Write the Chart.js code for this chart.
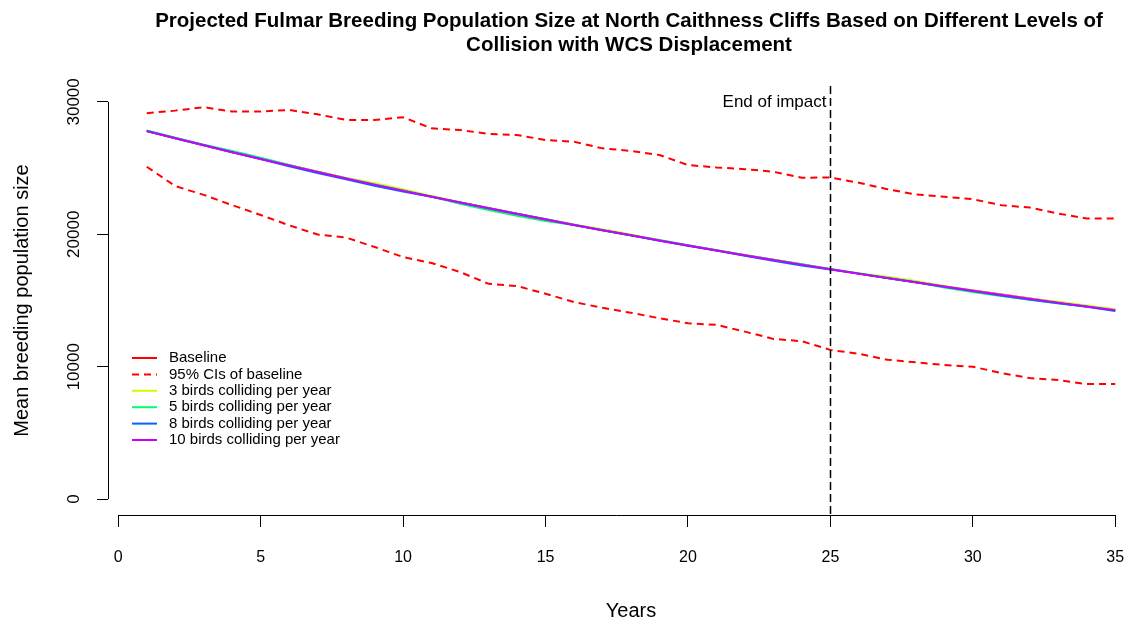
<!DOCTYPE html>
<html>
<head>
<meta charset="utf-8">
<title>Fulmar population projection</title>
<script src="https://cdn.jsdelivr.net/npm/chart.js@4.4.1/dist/chart.umd.min.js"></script>
<style>
  html, body { margin: 0; padding: 0; background: #fff; overflow: hidden; }
  #wrap { width: 1128px; height: 624px; overflow: hidden; }
  canvas { display: block; }
</style>
</head>
<body>
<div id="wrap"><canvas id="popChart" width="1160" height="624"></canvas></div>
<script>
// Data
const years = [1, 2, 3, 4, 5, 6, 7, 8, 9, 10, 11, 12, 13, 14, 15, 16, 17, 18, 19, 20,
  21, 22, 23, 24, 25, 26, 27, 28, 29, 30, 31, 32, 33, 34, 35];

const baseline = [27800, 27270, 26740, 26220, 25710, 25210, 24720, 24240, 23770, 23310,
  22860, 22410, 21980, 21550, 21130, 20720, 20320, 19930, 19540, 19160,
  18790, 18420, 18070, 17720, 17370, 17030, 16700, 16380, 16060, 15750,
  15450, 15150, 14850, 14560, 14280];

const upperCI = [29150, 29340, 29600, 29270, 29270, 29390, 29060, 28640, 28640, 28840,
  28000, 27880, 27580, 27500, 27120, 26990, 26490, 26300, 25990, 25230,
  25050, 24920, 24720, 24270, 24290, 23890, 23410, 23010, 22830, 22650,
  22200, 22020, 21570, 21190, 21190];

const lowerCI = [25100, 23640, 22980, 22200, 21460, 20680, 19980, 19750, 19040, 18280,
  17830, 17150, 16260, 16090, 15510, 14880, 14450, 14070, 13660, 13280,
  13160, 12650, 12100, 11920, 11270, 10970, 10530, 10330, 10130, 10000,
  9520, 9140, 8990, 8690, 8690];

const threeBirds = [27810, 27260, 26730, 26210, 25700, 25200, 24720, 24250, 23850, 23400,
  22900, 22420, 21980, 21550, 21130, 20740, 20380, 19980, 19550, 19160,
  18790, 18430, 18080, 17720, 17370, 17060, 16790, 16470, 16090, 15760,
  15450, 15160, 14900, 14630, 14340];

const fiveBirds = [27840, 27300, 26760, 26290, 25780, 25230, 24710, 24230, 23760, 23300,
  22850, 22300, 21830, 21400, 21000, 20700, 20300, 19910, 19570, 19180,
  18790, 18420, 18070, 17730, 17380, 17040, 16700, 16370, 15990, 15650,
  15340, 15060, 14800, 14540, 14270];

const eightBirds = [27800, 27260, 26720, 26200, 25680, 25130, 24630, 24150, 23670, 23240,
  22840, 22400, 21970, 21550, 21130, 20710, 20310, 19920, 19520, 19140,
  18770, 18370, 18000, 17650, 17340, 17030, 16700, 16370, 16040, 15720,
  15380, 15080, 14800, 14520, 14210];

const tenBirds = [27790, 27250, 26720, 26200, 25690, 25190, 24700, 24220, 23750, 23290,
  22840, 22400, 21970, 21540, 21120, 20710, 20310, 19920, 19530, 19150,
  18780, 18410, 18060, 17710, 17360, 17020, 16690, 16370, 16050, 15740,
  15440, 15140, 14840, 14550, 14270];

const xTicks = [0, 5, 10, 15, 20, 25, 30, 35];
const yTicks = [0, 10000, 20000, 30000];
const impactYear = 25;
const impactLabel = 'End of impact';
const titleLines = [
  'Projected Fulmar Breeding Population Size at North Caithness Cliffs Based on Different Levels of',
  'Collision with WCS Displacement'
];
const legendLabels = ['Baseline', '95% CIs of baseline', '3 birds colliding per year',
  '5 birds colliding per year', '8 birds colliding per year', '10 birds colliding per year'];

const FONT = "'Liberation Sans', Arial, sans-serif";
const RED = '#FF0000';
const seriesColours = ['#FF0000', '#FF0000', '#CCFF00', '#00FF66', '#0066FF', '#CC00FF'];
const CI_DASH = [7, 5];

function toPoints(vals) {
  return years.map((yr, i) => ({ x: yr, y: vals[i] }));
}

// R style: axes that stop at the first/last tick, title, text and legend inside the plot
const rStylePlugin = {
  id: 'rStyle',
  afterDraw(chart) {
    const ctx = chart.ctx;
    const xs = chart.scales.x, ys = chart.scales.y;
    const area = chart.chartArea;
    ctx.save();

    // axis lines
    ctx.strokeStyle = '#000';
    ctx.lineWidth = 1;
    ctx.beginPath();
    ctx.moveTo(area.left + 0.5, ys.getPixelForValue(yTicks[0]));
    ctx.lineTo(area.left + 0.5, ys.getPixelForValue(yTicks[yTicks.length - 1]));
    ctx.moveTo(xs.getPixelForValue(xTicks[0]), area.bottom + 0.5);
    ctx.lineTo(xs.getPixelForValue(xTicks[xTicks.length - 1]), area.bottom + 0.5);
    ctx.stroke();

    // end of impact line
    const ix = Math.round(xs.getPixelForValue(impactYear)) + 0.5;
    ctx.setLineDash([8, 4]);
    ctx.lineWidth = 1.5;
    ctx.beginPath();
    ctx.moveTo(ix, area.top);
    ctx.lineTo(ix, area.bottom);
    ctx.stroke();
    ctx.setLineDash([]);

    ctx.fillStyle = '#000';
    ctx.font = '17px ' + FONT;
    ctx.textAlign = 'right';
    ctx.textBaseline = 'middle';
    ctx.fillText(impactLabel, ix - 4, ys.getPixelForValue(yTicks[yTicks.length - 1]));

    // main title
    ctx.font = 'bold 20.5px ' + FONT;
    ctx.textAlign = 'center';
    const cx = (area.left + area.right) / 2 - 2;
    titleLines.forEach((line, i) => ctx.fillText(line, cx, 21 + i * 24));

    // legend
    const dashes = [[], CI_DASH, [], [], [], []];
    ctx.font = '15px ' + FONT;
    ctx.textAlign = 'left';
    legendLabels.forEach((label, i) => {
      const ly = 358 + i * 16.4;
      ctx.strokeStyle = seriesColours[i];
      ctx.lineWidth = 2;
      ctx.setLineDash(dashes[i]);
      ctx.beginPath();
      ctx.moveTo(132, ly);
      ctx.lineTo(157, ly);
      ctx.stroke();
      ctx.setLineDash([]);
      ctx.fillStyle = '#000';
      ctx.fillText(label, 169, ly);
    });
    ctx.restore();
  }
};

function lineSet(label, vals, colour, order, dash) {
  return {
    label: label,
    data: toPoints(vals),
    borderColor: colour,
    backgroundColor: colour,
    borderWidth: 2,
    borderDash: dash || [],
    pointRadius: 0,
    tension: 0,
    fill: false,
    order: order
  };
}

const ctx = document.getElementById('popChart').getContext('2d');
new Chart(ctx, {
  type: 'line',
  data: {
    datasets: [
      lineSet(legendLabels[0], baseline, seriesColours[0], 7),
      lineSet(legendLabels[1], upperCI, RED, 6, CI_DASH),
      lineSet(legendLabels[1] + ' (lower)', lowerCI, RED, 5, CI_DASH),
      lineSet(legendLabels[2], threeBirds, seriesColours[2], 4),
      lineSet(legendLabels[3], fiveBirds, seriesColours[3], 3),
      lineSet(legendLabels[4], eightBirds, seriesColours[4], 2),
      lineSet(legendLabels[5], tenBirds, seriesColours[5], 1)
    ]
  },
  options: {
    responsive: false,
    animation: false,
    devicePixelRatio: 1,
    layout: { padding: { top: 86, right: 6, left: 0, bottom: 0 } },
    plugins: {
      legend: { display: false },
      tooltip: { enabled: false },
      title: { display: false }
    },
    scales: {
      x: {
        type: 'linear',
        min: -0.36,
        max: 36.36,
        afterBuildTicks: s => { s.ticks = xTicks.map(v => ({ value: v })); },
        afterFit: s => { s.height = 109; },
        border: { display: false },
        grid: { drawOnChartArea: false, tickLength: 12, color: '#000', lineWidth: 1 },
        ticks: { font: { family: FONT, size: 16 }, color: '#000', padding: 21, maxRotation: 0, autoSkip: false },
        title: { display: true, text: 'Years', color: '#000', font: { family: FONT, size: 20 }, padding: { top: 1, bottom: 1 } }
      },
      y: {
        type: 'linear',
        min: -1200,
        max: 31200,
        afterBuildTicks: s => { s.ticks = yTicks.map(v => ({ value: v })); },
        afterFit: s => { s.width = 108; },
        border: { display: false },
        grid: { drawOnChartArea: false, tickLength: 11, color: '#000', lineWidth: 1 },
        ticks: {
          font: { family: FONT, size: 17 }, color: '#000',
          minRotation: 90, maxRotation: 90, crossAlign: 'center', padding: -1,
          callback: v => String(v)
        },
        title: { display: true, text: 'Mean breeding population size', color: '#000', font: { family: FONT, size: 20 }, padding: { top: 10, bottom: 0 } }
      }
    }
  },
  plugins: [rStylePlugin]
});
</script>
</body>
</html>
